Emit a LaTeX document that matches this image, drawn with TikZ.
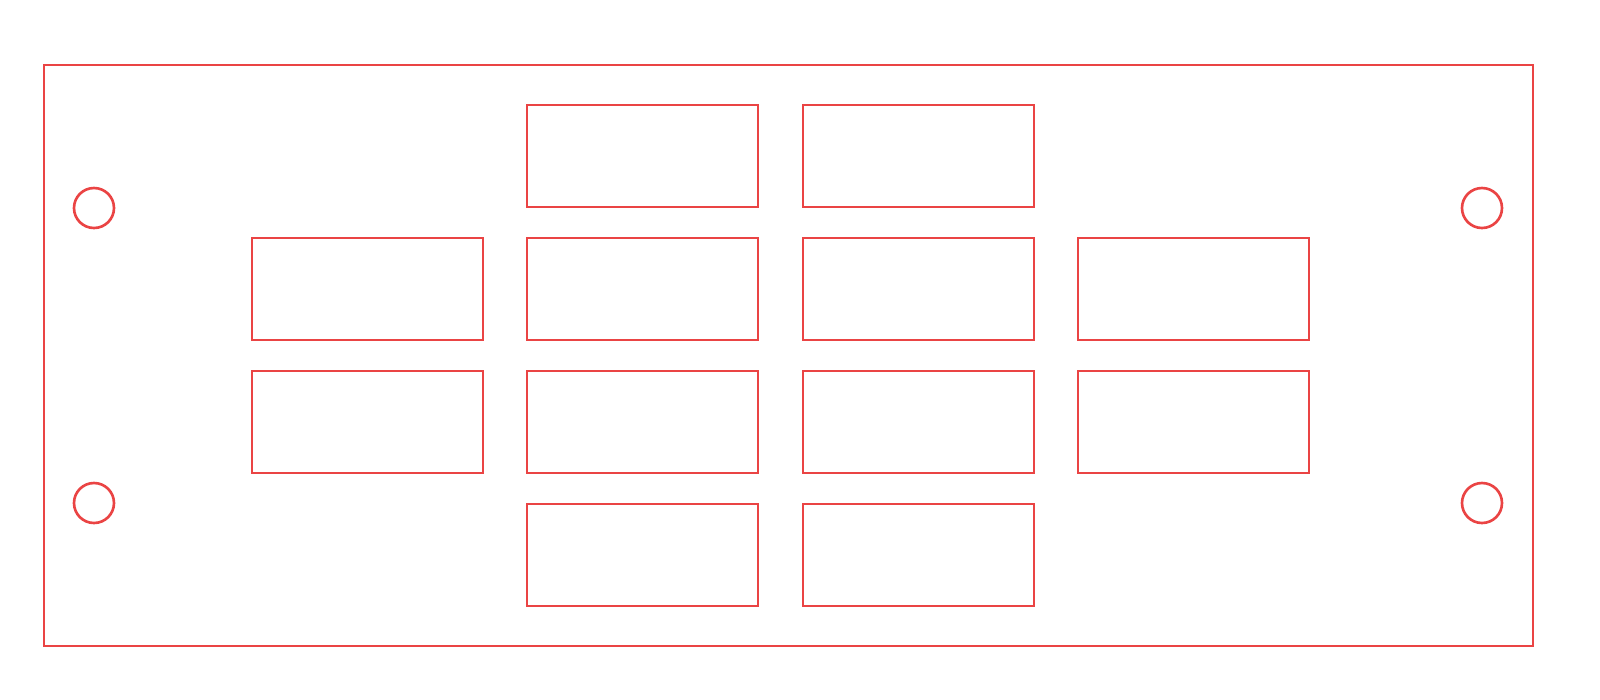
\documentclass[tikz,border=0pt]{standalone}
\usepackage{tikz}
\definecolor{cutred}{RGB}{234,68,68}

\begin{document}
\begin{tikzpicture}
    [x=0.01cm, y=-0.01cm, cut/.style = {draw = cutred, line width = 0.75pt}]
    \useasboundingbox (0,0) rectangle (1600,699);
    \draw[cut] (44,65) rectangle (1533,646);
    \foreach \cx/\cy in {94/208,94/503,1482/208,1482/503}
      \draw[cut] (\cx,\cy) circle (20);
    \foreach \x/\y in {527/105,803/105,
                       252/238,527/238,803/238,1078/238,
                       252/371,527/371,803/371,1078/371,
                       527/504,803/504}
      \draw[cut] (\x,\y) rectangle ++(231,102);
  \end{tikzpicture}
\end{document}
